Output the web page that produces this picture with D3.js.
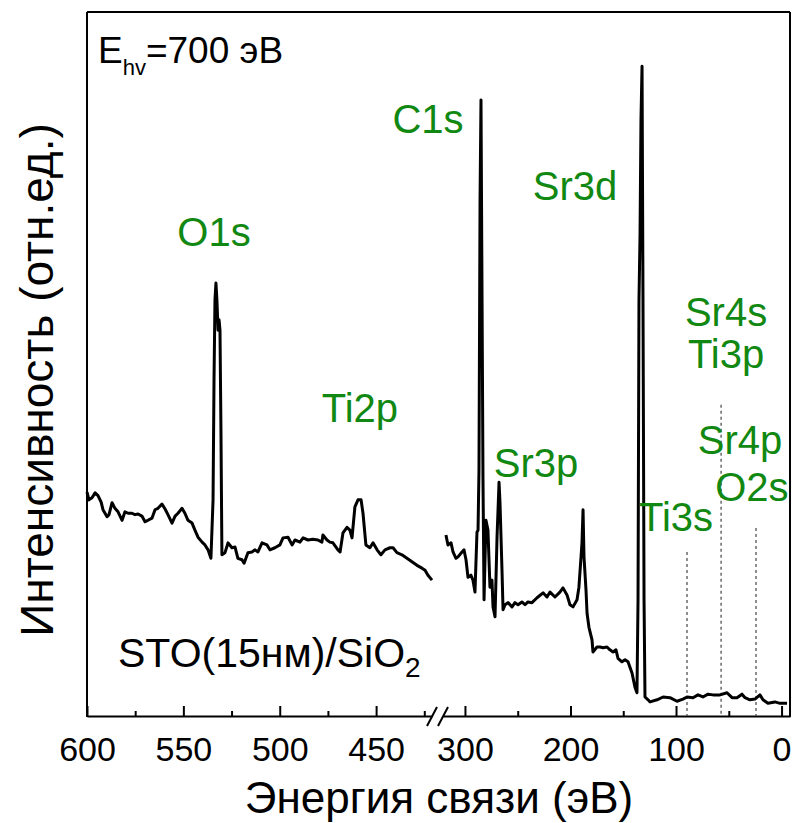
<!DOCTYPE html>
<html><head><meta charset="utf-8">
<script src="https://cdn.jsdelivr.net/npm/d3@7"></script>
<style>body{margin:0;background:#fff}svg{display:block}text{font-family:"Liberation Sans",Arial,sans-serif}</style>
</head><body><svg id="c" width="794" height="823"></svg>
<script>
// Binding energy (eV) and intensity (arb. units, 0-100) for the high-energy segment (600-421 eV)
const energyHigh = [600,599.0,597.4,595.8,594.3,592.7,591.7,589.6,588.6,587.0,585.5,583.9,581.8,580.3,578.7,576.7,575.1,573.5,571.5,569.9,568.4,566.3,564.7,563.2,561.1,559.5,558.0,555.9,554.3,552.8,550.7,549.2,547.6,545.5,544.0,542.4,540.3,538.8,537.2,535.7,534.6,534.1,533.6,533.1,532.6,532.0,531.5,531.0,530.5,530.0,528.4,526.8,524.8,523.2,521.7,519.6,518.5,516.5,514.4,512.8,511.3,509.2,506.6,505.1,502.5,499.9,498.3,495.7,493.6,492.1,489.5,487.9,485.3,482.8,480.2,478.1,477.6,475.5,474.0,472.4,469.8,468.7,467.2,465.1,463.6,462.5,461.0,459.4,457.8,456.8,455.3,453.2,451.6,449.5,447.5,445.4,442.8,441.2,439.2,436.6,434.0,431.4,428.8,426.2,424.6,423.1,421.0];
const intensityHigh = [31.8,30.7,31.0,31.7,31.3,30.4,29.3,28.3,28.6,30.3,29.5,29.0,27.8,29.0,28.8,28.8,28.6,28.7,28.4,27.6,27.8,28.1,29.3,29.5,30.1,29.4,28.6,27.4,28.4,28.8,29.5,28.8,27.8,27.4,26.4,25.4,24.7,24.3,23.6,22.4,30.7,47.7,59.1,61.5,59.1,54.8,56.3,54.8,40.6,22.9,23.2,24.6,23.9,24.0,22.4,22.2,21.7,23.2,23.3,23.6,23.3,24.6,24.3,23.6,23.9,24.3,25.3,25.4,24.3,25.0,24.7,25.3,25.0,25.1,25.0,24.7,25.7,25.0,24.7,24.6,23.6,23.3,26.0,26.8,26.4,25.3,29.7,30.7,30.7,28.8,24.3,23.9,24.6,23.6,22.9,23.6,23.9,23.9,23.2,22.9,22.4,21.9,21.4,21.0,20.7,20.0,19.3];
// Low-energy segment (318 to -5 eV)
const energyLow = [318.0,316.1,313.2,311.3,308.5,306.6,302.8,300.9,299.0,297.1,294.3,292.4,290.5,288.6,287.6,286.7,285.7,284.8,283.8,282.9,281.9,280.1,278.2,276.3,274.4,273.4,271.5,269.6,267.7,266.8,264.9,263.9,262.0,259.2,255.4,252.6,249.7,246.0,243.1,240.3,236.5,231.7,226.0,222.3,219.4,214.7,210.0,207.1,203.3,200.5,197.6,193.8,192.0,190.0,189.1,188.1,187.2,185.3,184.3,182.5,179.6,178.7,174.9,172.0,169.2,165.4,162.6,159.7,156.9,155.0,151.2,148.3,145.5,141.7,138.9,137.0,136.0,135.1,134.1,133.2,132.2,131.3,130.3,129.4,126.5,124.6,118.0,112.3,105.7,99.1,93.4,89.6,83.9,79.2,74.5,69.7,65.0,58.3,51.7,46.9,42.2,37.5,34.6,30.0,25.2,20.5,17.6,12.9,6.3,1.5,-5.2];
const intensityLow = [25.7,24.3,24.6,23.3,22.4,22.6,23.3,23.6,22.2,19.7,20.0,19.3,17.6,26.1,26.4,34.9,73.3,87.5,59.1,33.5,16.5,27.8,26.4,18.3,19.3,15.5,14.1,25.4,33.2,30.3,20.7,15.1,15.8,16.1,15.5,16.1,15.8,16.2,15.8,16.2,16.1,16.8,17.5,16.9,17.6,16.9,17.6,18.2,17.2,15.8,15.5,16.5,18.3,22.6,24.6,29.3,22.6,17.9,14.6,12.6,10.8,9.1,9.8,9.8,9.7,9.8,9.4,9.1,9.4,8.2,7.7,8.0,7.7,6.1,4.1,3.3,16.5,59.1,68.3,84.7,92.3,59.1,16.5,2.7,2.3,2.0,2.3,2.7,2.6,2.1,2.4,2.7,2.6,3.0,2.7,3.1,3.0,3.0,3.3,2.6,2.6,3.1,2.6,2.3,2.4,3.0,2.3,1.8,2.0,1.8,1.8];
// Tick values
const ticksHighMajor = [600,550,500,450];
const ticksHighMinor = [575,525,475,425];
const ticksLowMajor = [300,200,100,0];
const ticksLowMinor = [250,150,50];
// Peak labels (anchor energy on the segment's scale, anchor intensity)
const peakLabels = ["O1s","Ti2p","C1s","Sr3d","Sr3p","Sr4s","Ti3p","Sr4p","O2s","Ti3s"];
const peakLabelE = [534.1,458.4,335,195.7,232.7,52.6,52.6,39.4,28.1,100.0];
const peakLabelSeg = ["H","H","L","L","L","L","L","L","L","L"];
const peakLabelI = [66.8,41.8,82.8,73.3,33.9,55.4,49.4,37.2,30.5,26.3];
// Reference marker lines (energy, top intensity)
const markerE = [89.6,57.3,24.2];
const markerTop = [23.3,44.2,26.7];

const svg = d3.select("#c");
const L = 87, R = 790, T = 12, B = 716;
const xH = d3.scaleLinear().domain([600,421]).range([L,432]);
const xL = d3.scaleLinear().domain([320.8,-8]).range([443,R]);
const y = d3.scaleLinear().domain([0,100]).range([B,T]);

// frame
const g = svg.append("g");
g.append("line").attr("x1",L).attr("x2",R).attr("y1",T).attr("y2",T);
g.append("line").attr("x1",L).attr("x2",L).attr("y1",T).attr("y2",B+1);
g.append("line").attr("x1",R).attr("x2",R).attr("y1",T).attr("y2",B+1);
g.selectAll("line").attr("stroke","#000").attr("stroke-width",2);

function axis(scale, major, minor){
  const a = svg.append("g").attr("transform",`translate(0,${B})`)
    .call(d3.axisBottom(scale).tickValues(major).tickSizeInner(-10).tickSizeOuter(0).tickPadding(21).tickFormat(d3.format("d")));
  a.select(".domain").attr("stroke-width",2);
  a.selectAll(".tick line").attr("stroke-width",2);
  a.selectAll("text").attr("font-size",34).attr("fill","#000");
  const m = svg.append("g").attr("transform",`translate(0,${B})`)
    .call(d3.axisBottom(scale).tickValues(minor).tickSizeInner(-5).tickSizeOuter(0).tickFormat(""));
  m.select(".domain").remove();
  m.selectAll(".tick line").attr("stroke-width",2);
}
axis(xH, ticksHighMajor, ticksHighMinor);
axis(xL, ticksLowMajor, ticksLowMinor);

// break marks
[432,443].forEach(cx=>{
  svg.append("line").attr("x1",cx-5).attr("y1",B+10).attr("x2",cx+5).attr("y2",B-9)
    .attr("stroke","#000").attr("stroke-width",2);
});

// marker lines
markerE.forEach((e,i)=>{
  svg.append("line").attr("x1",xL(e)).attr("x2",xL(e)).attr("y1",y(markerTop[i])).attr("y2",B)
    .attr("stroke","#444").attr("stroke-width",1.2).attr("stroke-dasharray","3,3");
});

// spectra
const lineH = d3.line().x((d,i)=>xH(energyHigh[i])).y((d,i)=>y(intensityHigh[i]));
const lineL = d3.line().x((d,i)=>xL(energyLow[i])).y((d,i)=>y(intensityLow[i]));
svg.append("path").attr("d",lineH(energyHigh)).attr("fill","none").attr("stroke","#000").attr("stroke-width",3).attr("stroke-linejoin","round");
svg.append("path").attr("d",lineL(energyLow)).attr("fill","none").attr("stroke","#000").attr("stroke-width",3).attr("stroke-linejoin","round");

// peak labels
peakLabels.forEach((t,i)=>{
  const sc = peakLabelSeg[i]==="H"?xH:xL;
  svg.append("text").attr("x",sc(peakLabelE[i])).attr("y",y(peakLabelI[i]))
    .attr("text-anchor","middle").attr("font-size",40).attr("fill","#118811").text(t);
});

// annotations
const e = svg.append("text").attr("x",98).attr("y",63).attr("font-size",37).attr("fill","#000");
e.append("tspan").text("E");
e.append("tspan").attr("font-size",22).attr("dy",12).text("hv");
e.append("tspan").attr("dy",-12).text("=700 эВ");
const s = svg.append("text").attr("x",118).attr("y",667).attr("font-size",41).attr("fill","#000");
s.append("tspan").text("STO(15нм)/SiO");
s.append("tspan").attr("font-size",28).attr("dy",10).text("2");

// axis titles
svg.append("text").attr("x",439).attr("y",813).attr("text-anchor","middle").attr("font-size",44).attr("fill","#000").text("Энергия связи (эВ)");
svg.append("text").attr("transform","translate(53,380) rotate(-90)").attr("text-anchor","middle").attr("font-size",46).attr("fill","#000").text("Интенсивность (отн.ед.)");
</script></body></html>
